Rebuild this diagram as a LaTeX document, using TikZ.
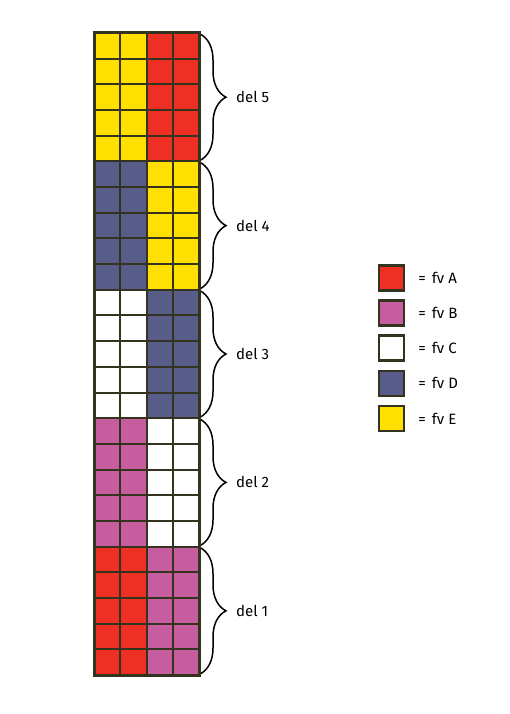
\documentclass[tikz,border=0pt]{standalone}
\usepackage{fontspec}
\setmainfont{Fira Sans}
\usetikzlibrary{positioning, decorations.pathreplacing, calc}
\definecolor{fvA}{HTML}{EE3024}
\definecolor{fvB}{HTML}{C75C9F}
\definecolor{fvC}{HTML}{FFFFFF}
\definecolor{fvD}{HTML}{585C88}
\definecolor{fvE}{HTML}{FFE000}
\definecolor{rim}{HTML}{33331F}
\tikzset{
  gridline/.style={draw=rim, line width=2pt},
  legbox/.style={draw=rim, line width=2.5pt, minimum size=25pt, inner sep=0pt},
  deltext/.style={anchor=west, font=\fontsize{15}{17}\selectfont, inner sep=0pt},
}
\begin{document}
\begin{tikzpicture}[x=1pt,y=-1pt]
\useasboundingbox (0,0) rectangle (510,714);
% coloured halves and braces, del 1 at the bottom
\foreach \k/\cl/\cr in {1/fvA/fvB, 2/fvB/fvC, 3/fvC/fvD, 4/fvD/fvE, 5/fvE/fvA}{
  \fill[\cl] (94,{675-\k*128.4}) rectangle (146.5,{675-(\k-1)*128.4});
  \fill[\cr] (146.5,{675-\k*128.4}) rectangle (199,{675-(\k-1)*128.4});
  \draw[line width=1.5pt, decorate, decoration={brace, amplitude=26pt}]
    (200,{675-\k*128.4+1}) -- (200,{675-(\k-1)*128.4-1});
  \node[deltext] (del\k) at (236,{675-(\k-0.5)*128.4}) {del \k};
}
% grid lines
\foreach \i in {1,...,24}
  \draw[gridline] (94,{33+\i*25.68}) -- (199,{33+\i*25.68});
\foreach \x in {120.25,146.5,172.75}
  \draw[gridline] (\x,33) -- (\x,675);
\draw[draw=rim, line width=3pt] (94,33) rectangle (199,675);
% legend
\foreach \n [count=\i from 0] in {A,B,C,D,E}{
  \node[legbox, fill=fv\n] (box\n) at (391.5,{278+\i*35.1}) {};
  \node[deltext, right=13pt of box\n.east, anchor=west] (lab\n) {=\hspace{6pt}fv \n};
}
\end{tikzpicture}
\end{document}
